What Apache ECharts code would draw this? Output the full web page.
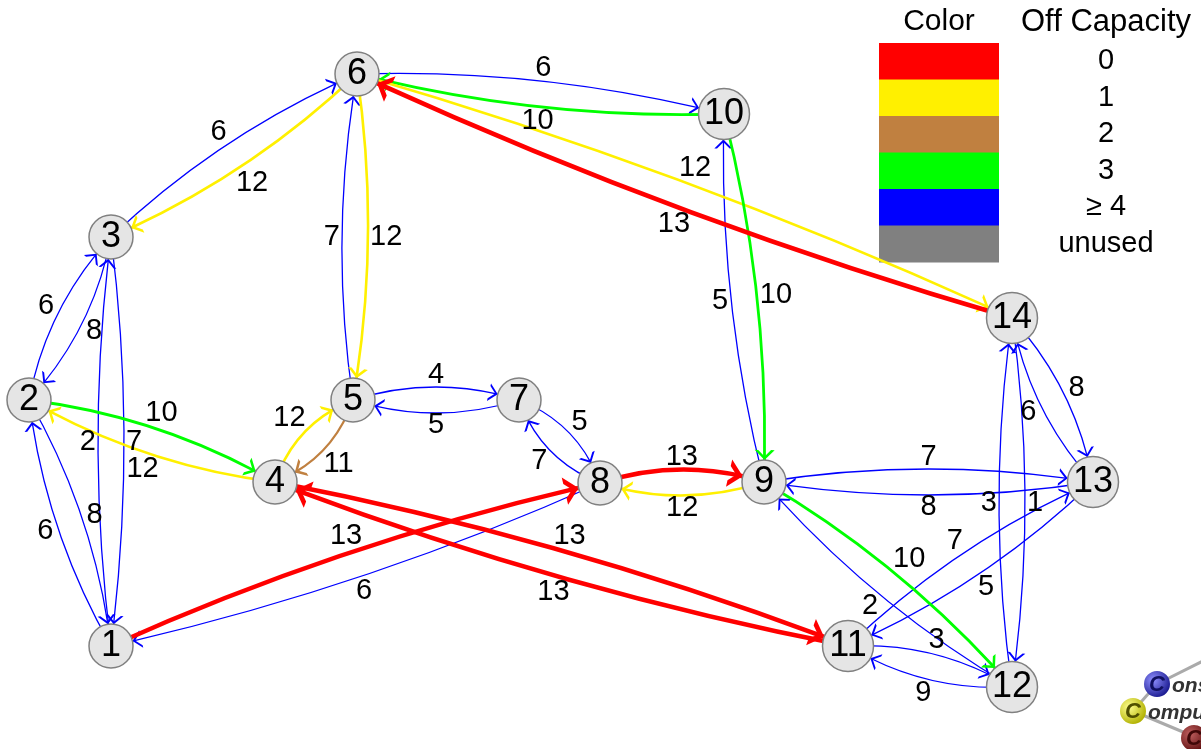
<!DOCTYPE html>
<html><head><meta charset="utf-8">
<script src="https://cdn.jsdelivr.net/npm/echarts@6/dist/echarts.min.js"></script>
<style>html,body{margin:0;padding:0;background:#fff}#c{width:1201px;height:749px}</style>
</head><body><div id="c"></div>
<script>
// ---- data ----
const nodeNames = ['1','2','3','4','5','6','7','8','9','10','11','12','13','14'];
const nodeX = [111, 29, 111, 275, 353, 357, 519, 600, 764, 724, 848, 1012, 1093, 1012];
const nodeY = [646, 400, 237, 482, 400, 74, 400, 483, 482, 114, 646, 687, 482, 318];

const edgeFrom  = ['1','2','1','3','2','3','2','4','3','6','4','5','4','11','1','8','5','6','5','7','7','8','8','9','6','10','6','14','9','10','9','13','9','12','11','12','11','13','12','14','13','14'];
const edgeTo    = ['2','1','3','1','3','2','4','2','6','3','5','4','11','4','8','1','6','5','7','5','8','7','9','8','10','6','14','6','10','9','13','9','12','9','12','11','13','11','14','12','14','13'];
const edgeLabel = ['6','8','2','7','6','8','10','12','6','12','12','11','13','13','13','6','7','12','4','5','5','7','13','12','6','10','12','13','5','10','7','8','10','2','3','9','7','5','3','1','6','8'];
// off capacity class: 0 red, 1 yellow, 2 brown, 3 green, 4 (>=4) blue
const edgeCap   = [4,4,4,4,4,4,3,1,4,1,1,2,0,0,0,4,4,1,4,4,4,4,0,1,4,3,1,0,4,3,4,4,3,4,4,4,4,4,4,4,4,4];

const legendColors = ['#ff0000','#fff000','#c08040','#00ff00','#0000ff','#808080'];
const legendLabels = ['0','1','2','3','\u2265 4','unused'];

// ---- styles ----
const capWidth = [4.5, 2.6, 2.3, 2.8, 1.3];
const capArrow = [[16, 14, 2.4], [11, 10, 1.8], [11, 10, 1.8], [11, 10, 1.8], [9, 9, 1.5]];
const BEND = 13;
const FONT = '"Liberation Sans", Arial, Helvetica, sans-serif';

function chevron(t) {
  return 'path://M5,-10L5,-10Z M5,0L10,10L' + (10 - t) + ',10L5,' + (2 * t) + 'L' + t + ',10L0,10Z';
}
function idx(n) { return nodeNames.indexOf(n); }

const minX = Math.min(...nodeX), maxX = Math.max(...nodeX);
const minY = Math.min(...nodeY), maxY = Math.max(...nodeY);

const nodes = nodeNames.map((n, i) => ({
  name: n, x: nodeX[i], y: nodeY[i],
  symbolSize: n.length > 1 ? 51 : 44
}));

const order = edgeFrom.map((_, i) => i).sort((a, b) => {
  const ra = edgeCap[a] === 4 ? 0 : (edgeCap[a] === 0 ? 2 : 1);
  const rb = edgeCap[b] === 4 ? 0 : (edgeCap[b] === 0 ? 2 : 1);
  return ra - rb || a - b;
});

function curvenessOf(i) {
  const a = idx(edgeFrom[i]), b = idx(edgeTo[i]);
  const len = Math.hypot(nodeX[b] - nodeX[a], nodeY[b] - nodeY[a]);
  return 2 * BEND / len;
}

const links = order.map(i => {
  const cap = edgeCap[i];
  const ar = capArrow[cap];
  return {
    source: edgeFrom[i], target: edgeTo[i],
    symbol: ['none', chevron(ar[2])],
    symbolSize: [ar[0], ar[1] * 2],
    lineStyle: { color: legendColors[cap], width: capWidth[cap], curveness: curvenessOf(i), opacity: 1 }
  };
});

const chart = echarts.init(document.getElementById('c'), null, { renderer: 'canvas' });

const legendGraphics = [];
legendGraphics.push({ type: 'text', x: 939, y: 22, style: { text: 'Color', font: '30px ' + FONT, fill: '#000', align: 'center', verticalAlign: 'middle', textAlign: 'center', textVerticalAlign: 'middle' } });
legendGraphics.push({ type: 'text', x: 1106, y: 22, style: { text: 'Off Capacity', font: '31px ' + FONT, fill: '#000', align: 'center', verticalAlign: 'middle', textAlign: 'center', textVerticalAlign: 'middle' } });
legendColors.forEach((c, k) => {
  const y0 = 43 + k * 36.5;
  legendGraphics.push({ type: 'rect', shape: { x: 879, y: y0, width: 120, height: 37 }, style: { fill: c } });
  legendGraphics.push({ type: 'text', x: 1106, y: y0 + 18, style: { text: legendLabels[k], font: '29px ' + FONT, fill: '#000', align: 'center', verticalAlign: 'middle', textAlign: 'center', textVerticalAlign: 'middle' } });
});

// logo (partial, bottom right)
const logo = [
  { type: 'line', shape: { x1: 1157, y1: 684, x2: 1205, y2: 660 }, style: { stroke: '#aaa', lineWidth: 3 } },
  { type: 'line', shape: { x1: 1133, y1: 711, x2: 1157, y2: 684 }, style: { stroke: '#aaa', lineWidth: 3 } },
  { type: 'line', shape: { x1: 1133, y1: 711, x2: 1195, y2: 737 }, style: { stroke: '#aaa', lineWidth: 3 } },
  { type: 'circle', shape: { cx: 1157, cy: 684, r: 13 }, style: { fill: new echarts.graphic.RadialGradient(0.35, 0.35, 0.7, [{ offset: 0, color: '#9090ff' }, { offset: 1, color: '#1a1a90' }]) } },
  { type: 'circle', shape: { cx: 1133, cy: 711, r: 13 }, style: { fill: new echarts.graphic.RadialGradient(0.35, 0.35, 0.7, [{ offset: 0, color: '#ffff90' }, { offset: 1, color: '#b0b000' }]) } },
  { type: 'circle', shape: { cx: 1194, cy: 738, r: 13 }, style: { fill: new echarts.graphic.RadialGradient(0.35, 0.35, 0.7, [{ offset: 0, color: '#c06060' }, { offset: 1, color: '#601010' }]) } },
  { type: 'text', x: 1157, y: 685, style: { text: 'C', font: 'italic bold 22px ' + FONT, fill: '#101060', align: 'center', verticalAlign: 'middle', textAlign: 'center', textVerticalAlign: 'middle' } },
  { type: 'text', x: 1133, y: 712, style: { text: 'C', font: 'italic bold 22px ' + FONT, fill: '#505000', align: 'center', verticalAlign: 'middle', textAlign: 'center', textVerticalAlign: 'middle' } },
  { type: 'text', x: 1194, y: 739, style: { text: 'C', font: 'italic bold 22px ' + FONT, fill: '#400808', align: 'center', verticalAlign: 'middle', textAlign: 'center', textVerticalAlign: 'middle' } },
  { type: 'text', x: 1172, y: 686, style: { text: 'onstraint', font: 'italic bold 21px ' + FONT, fill: '#333', align: 'left', verticalAlign: 'middle', textAlign: 'left', textVerticalAlign: 'middle' } },
  { type: 'text', x: 1148, y: 713, style: { text: 'omputation', font: 'italic bold 21px ' + FONT, fill: '#333', align: 'left', verticalAlign: 'middle', textAlign: 'left', textVerticalAlign: 'middle' } }
];

chart.setOption({
  backgroundColor: '#fff',
  animation: false,
  series: [{
    type: 'graph',
    layout: 'none',
    roam: false,
    left: minX, top: minY, width: maxX - minX, height: maxY - minY,
    symbol: 'circle',
    z: 2,
    itemStyle: { color: '#e5e5e5', borderColor: '#808080', borderWidth: 1.5 },
    label: { show: true, position: 'inside', fontSize: 36, color: '#000', fontFamily: 'Liberation Sans' },
    emphasis: { disabled: true },
    data: nodes,
    links: links
  }],
  graphic: { elements: legendGraphics.concat(logo) }
});

// edge value labels, placed beside each curve's midpoint
const labelFont = 29;
const labelEls = [];
for (let i = 0; i < edgeFrom.length; i++) {
  const a = idx(edgeFrom[i]), b = idx(edgeTo[i]);
  let pa = [nodeX[a], nodeY[a]], pb = [nodeX[b], nodeY[b]];
  try {
    const qa = chart.convertToPixel({ seriesIndex: 0 }, pa);
    const qb = chart.convertToPixel({ seriesIndex: 0 }, pb);
    if (qa && qb && isFinite(qa[0])) { pa = qa; pb = qb; }
  } catch (e) {}
  const dx = pb[0] - pa[0], dy = pb[1] - pa[1];
  const len = Math.hypot(dx, dy);
  const nx = dy / len, ny = -dx / len;
  const mx = (pa[0] + pb[0]) / 2, my = (pa[1] + pb[1]) / 2;
  const halfW = edgeLabel[i].length * 0.278 * labelFont;
  const halfH = 0.36 * labelFont;
  const d = BEND + Math.abs(nx) * halfW + Math.abs(ny) * halfH + 2;
  labelEls.push({
    type: 'text', x: mx + nx * d, y: my + ny * d, z: 10,
    style: { text: edgeLabel[i], font: labelFont + 'px ' + FONT, fill: '#000', align: 'center', verticalAlign: 'middle', textAlign: 'center', textVerticalAlign: 'middle' }
  });
}
chart.setOption({ graphic: { elements: legendGraphics.concat(logo).concat(labelEls) } });
</script>
</body></html>
